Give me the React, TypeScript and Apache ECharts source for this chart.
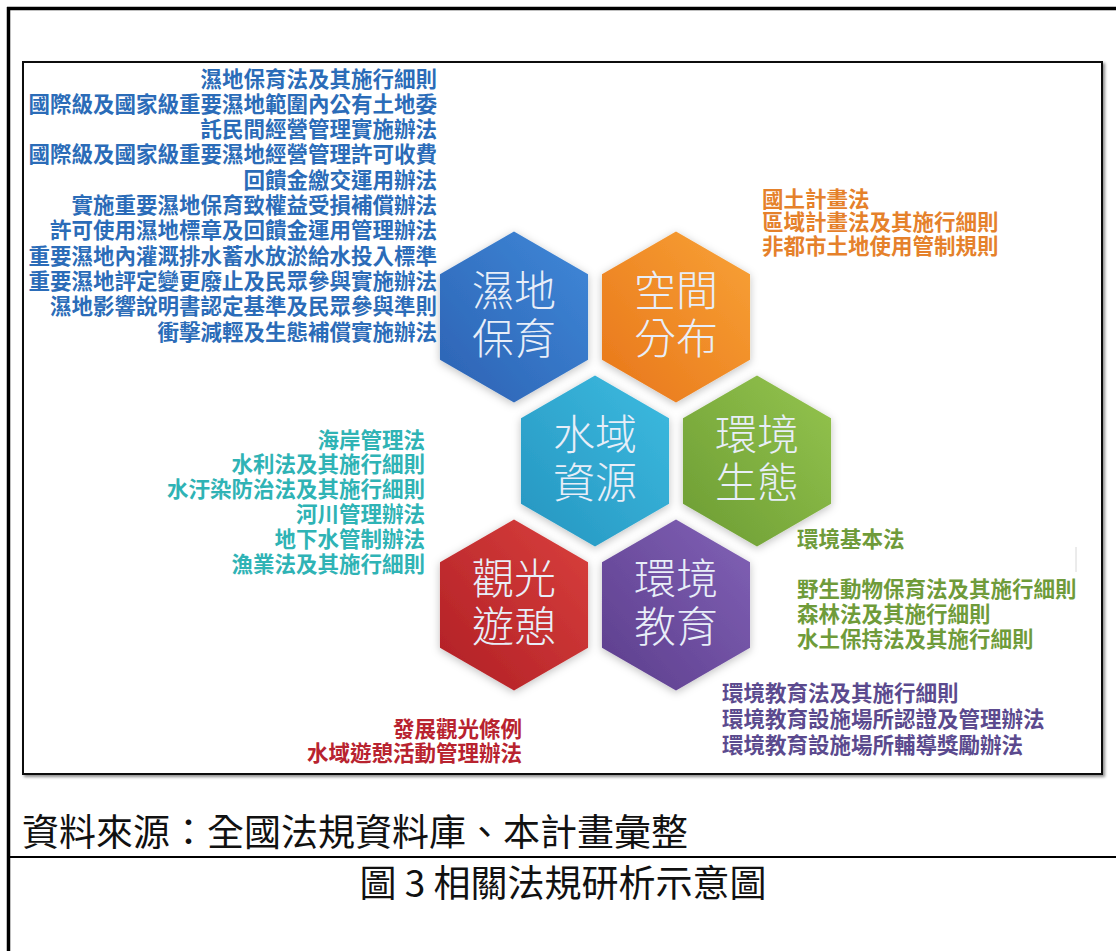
import React, { useEffect, useRef } from "react";
import * as echarts from "echarts";

// ---- data ----
const categories = ["濕地保育", "空間分布", "水域資源", "環境生態", "觀光遊憩", "環境教育"];

const wetlandLaws = [
  "濕地保育法及其施行細則",
  "國際級及國家級重要濕地範圍內公有土地委",
  "託民間經營管理實施辦法",
  "國際級及國家級重要濕地經營管理許可收費",
  "回饋金繳交運用辦法",
  "實施重要濕地保育致權益受損補償辦法",
  "許可使用濕地標章及回饋金運用管理辦法",
  "重要濕地內灌溉排水蓄水放淤給水投入標準",
  "重要濕地評定變更廢止及民眾參與實施辦法",
  "濕地影響說明書認定基準及民眾參與準則",
  "衝擊減輕及生態補償實施辦法",
];
const spatialLaws = ["國土計畫法", "區域計畫法及其施行細則", "非都市土地使用管制規則"];
const waterLaws = [
  "海岸管理法",
  "水利法及其施行細則",
  "水汙染防治法及其施行細則",
  "河川管理辦法",
  "地下水管制辦法",
  "漁業法及其施行細則",
];
const ecologyLaws = ["環境基本法", "野生動物保育法及其施行細則", "森林法及其施行細則", "水土保持法及其施行細則"];
const tourismLaws = ["發展觀光條例", "水域遊憩活動管理辦法"];
const educationLaws = ["環境教育法及其施行細則", "環境教育設施場所認證及管理辦法", "環境教育設施場所輔導獎勵辦法"];

const sourceNote = "資料來源：全國法規資料庫、本計畫彙整";
const figureTitle = "圖 3 相關法規研析示意圖";

// ---- layout / style (not data) ----
const honeycombSlots: [number, number][] = [
  [0, 0],
  [1, 0],
  [0.5, 1],
  [1.5, 1],
  [0, 2],
  [1, 2],
];
const hexColors: [string, string][] = [
  ["#2c62b3", "#3f88d8"],
  ["#e8761a", "#f8a236"],
  ["#2595c0", "#3dbbe0"],
  ["#6c9c33", "#94c44e"],
  ["#b01f25", "#d9403d"],
  ["#5c3d8c", "#8162b6"],
];
const FONT = '"Noto Sans CJK TC", "Noto Sans CJK SC", sans-serif';

function lawBlock(
  lines: string[],
  x: number,
  firstCenterY: number,
  lineHeight: number,
  align: "left" | "right",
  color: string
) {
  return {
    type: "text",
    z: 10,
    style: {
      text: lines.join("\n"),
      x,
      y: firstCenterY - lineHeight / 2,
      align,
      verticalAlign: "top",
      fontSize: 21.5,
      lineHeight,
      fontWeight: "bold",
      fontFamily: FONT,
      fill: color,
    },
  };
}

export default function App() {
  const ref = useRef<HTMLDivElement>(null);

  useEffect(() => {
    if (!ref.current) return;
    const chart = echarts.init(ref.current, undefined, { renderer: "svg" });

    const seriesData = categories.map((name, i) => ({
      name,
      value: [honeycombSlots[i][0], honeycombSlots[i][1], i],
    }));

    const ecologyText = [ecologyLaws[0], "", ...ecologyLaws.slice(1)];

    chart.setOption({
      animation: false,
      backgroundColor: "#ffffff",
      grid: { left: 514, top: 317, width: 162, height: 288 },
      xAxis: { type: "value", min: 0, max: 1, show: false },
      yAxis: { type: "value", min: 0, max: 2, inverse: true, show: false },
      series: [
        {
          type: "custom",
          clip: false,
          data: seriesData,
          renderItem: (params: any, api: any) => {
            const idx = api.value(2);
            const c = api.coord([api.value(0), api.value(1)]);
            const unit = api.size([1, 1]);
            const hw = unit[0] * 0.457;
            const R = hw / Math.cos(Math.PI / 6);
            const cx = c[0];
            const cy = c[1];
            const pts = [
              [cx, cy - R],
              [cx + hw, cy - R / 2],
              [cx + hw, cy + R / 2],
              [cx, cy + R],
              [cx - hw, cy + R / 2],
              [cx - hw, cy - R / 2],
            ];
            const [dark, light] = hexColors[idx];
            const name = categories[idx];
            return {
              type: "group",
              children: [
                {
                  type: "polygon",
                  shape: { points: pts },
                  style: {
                    fill: {
                      type: "linear",
                      x: 0,
                      y: 1,
                      x2: 1,
                      y2: 0,
                      colorStops: [
                        { offset: 0, color: dark },
                        { offset: 1, color: light },
                      ],
                    },
                    shadowBlur: 8,
                    shadowColor: "rgba(0,0,0,0.25)",
                    shadowOffsetY: 2,
                  },
                },
                {
                  type: "text",
                  style: {
                    text: name.slice(0, 2) + "\n" + name.slice(2),
                    x: cx,
                    y: cy - 6,
                    align: "center",
                    verticalAlign: "middle",
                    fontSize: 42,
                    lineHeight: 48,
                    fontFamily: FONT,
                    fontWeight: 300,
                    fill: "#e8eef8",
                  },
                },
              ],
            };
          },
        },
      ],
      graphic: [
        // outer page frame
        { type: "line", shape: { x1: 8.5, y1: 7, x2: 8.5, y2: 951 }, style: { stroke: "#000", lineWidth: 3.5 } },
        { type: "line", shape: { x1: 7, y1: 8.5, x2: 1116, y2: 8.5 }, style: { stroke: "#000", lineWidth: 3.5 } },
        { type: "line", shape: { x1: 9, y1: 857, x2: 1116, y2: 857 }, style: { stroke: "#000", lineWidth: 2 } },
        // picture frame
        {
          type: "rect",
          shape: { x: 23, y: 62, width: 1079, height: 712 },
          style: {
            fill: "#ffffff",
            stroke: "#111",
            lineWidth: 2,
            shadowBlur: 3,
            shadowOffsetX: 2,
            shadowOffsetY: 2,
            shadowColor: "rgba(0,0,0,0.45)",
          },
        },
        // small blank patch line near ecology list
        { type: "line", z: 10, shape: { x1: 1076, y1: 547, x2: 1076, y2: 572 }, style: { stroke: "#d8d8d8", lineWidth: 1 } },
        lawBlock(wetlandLaws, 437, 77, 25.3, "right", "#2b6cb8"),
        lawBlock(spatialLaws, 762, 197, 23.5, "left", "#e5812b"),
        lawBlock(waterLaws, 425, 438, 24.8, "right", "#2fb3b5"),
        lawBlock(ecologyText, 797, 537, 25, "left", "#6f9b3a"),
        lawBlock(educationLaws, 722, 691, 26, "left", "#5b4a8e"),
        lawBlock(tourismLaws, 522, 727, 24.5, "right", "#b8232f"),
        {
          type: "text",
          z: 10,
          style: {
            text: sourceNote,
            x: 22,
            y: 830,
            align: "left",
            verticalAlign: "middle",
            fontSize: 37,
            fontFamily: FONT,
            fill: "#111",
          },
        },
        {
          type: "text",
          z: 10,
          style: {
            text: figureTitle,
            x: 563,
            y: 881,
            align: "center",
            verticalAlign: "middle",
            fontSize: 37,
            fontFamily: FONT,
            fill: "#111",
          },
        },
      ],
    });

    return () => chart.dispose();
  }, []);

  return (
    <div
      ref={ref}
      style={{ position: "fixed", left: 0, top: 0, width: 1116, height: 951, background: "#fff" }}
    />
  );
}
